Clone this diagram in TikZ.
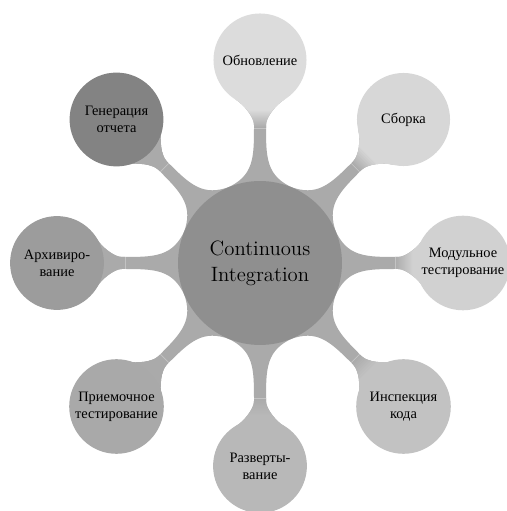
\documentclass[tikz,border=0pt]{standalone}
\usepackage{fontspec}
\newfontfamily\cyr{Liberation Serif}
\pgfdeclarelayer{background}
\pgfsetlayers{background,main}

% concept fills
\definecolor{rootfill}{HTML}{8F8F8F}
\definecolor{barbase}{HTML}{AAAAAA}
\definecolor{cUpd}{HTML}{DCDCDC}
\definecolor{cBuild}{HTML}{D7D7D7}
\definecolor{cUnit}{HTML}{D1D1D1}
\definecolor{cInsp}{HTML}{C2C2C2}
\definecolor{cDepl}{HTML}{B8B8B8}
\definecolor{cAcc}{HTML}{A9A9A9}
\definecolor{cArch}{HTML}{9C9C9C}
\definecolor{cRep}{HTML}{838383}

% Connection bar from the root concept to a child concept:
% a waisted band that flares into both circles and blends into
% the child's colour near the child end.
\newcommand\cibar[2]{%
  \pgfmathanglebetweenpoints{\pgfpointanchor{ci}{center}}{\pgfpointanchor{#1}{center}}%
  \let\barangle\pgfmathresult
  \begin{scope}[shift={(ci.center)}, rotate=\barangle]
    \def\barshape{(74.9,33.4) .. controls (87.1,6.0) and (105,6) .. (138,6)
      .. controls (146,6) and (158.3,16.1) .. (163.6,24.6)
      -- (163.6,-24.6) .. controls (158.3,-16.1) and (146,-6) .. (138,-6)
      .. controls (105,-6) and (87.1,-6.0) .. (74.9,-33.4) -- cycle}
    \fill[barbase] \barshape;
    \begin{scope}
      \clip \barshape;
      \foreach \k in {0,...,17} {
        \pgfmathsetmacro\pc{100*(\k+0.5)/18}
        \fill[#2!\pc!barbase] ({135+\k},-40) rectangle ({136.3+\k},40);
      }
      \fill[#2] (153,-40) rectangle (175,40);
      \draw[white, opacity=0.3, line width=0.5pt] (135,-40) -- (135,40);
    \end{scope}
  \end{scope}}

\begin{document}
\begin{tikzpicture}[x=0.0244cm, y=0.0244cm,
  rootconcept/.style={circle, fill=rootfill, minimum size=4cm,
    text width=3.6cm, align=center, inner sep=0pt, font=\Large},
  leaf/.style={circle, fill=#1, minimum size=2.27cm,
    text width=2.2cm, align=center, inner sep=0pt, font=\cyr}]
\useasboundingbox (0,0) rectangle (507,511);

\node[rootconcept] (ci) at (260,248) {Continuous\\Integration};

\node[leaf=cUpd]   (upd)   at (260,451)     {Обновление};
\node[leaf=cBuild] (build) at (403.5,391.5) {Сборка};
\node[leaf=cUnit]  (unit)  at (463,248)     {Модульное\\тестирование};
\node[leaf=cInsp]  (insp)  at (403.5,104.5) {Инспекция\\кода};
\node[leaf=cDepl]  (depl)  at (260,45)      {Разверты-\\вание};
\node[leaf=cAcc]   (acc)   at (116.5,104.5) {Приемочное\\тестирование};
\node[leaf=cArch]  (arch)  at (57,248)      {Архивиро-\\вание};
\node[leaf=cRep]   (rep)   at (116.5,391.5) {Генерация\\отчета};

\begin{pgfonlayer}{background}
  \cibar{upd}{cUpd}
  \cibar{build}{cBuild}
  \cibar{unit}{cUnit}
  \cibar{insp}{cInsp}
  \cibar{depl}{cDepl}
  \cibar{acc}{barbase}
  \cibar{arch}{barbase}
  \cibar{rep}{barbase}
\end{pgfonlayer}
\end{tikzpicture}
\end{document}
